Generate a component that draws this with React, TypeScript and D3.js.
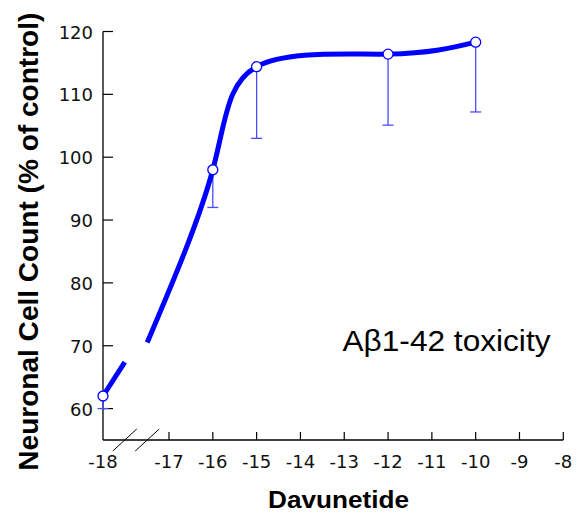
import React from "react";
import * as d3 from "d3";

// ---- data ----
const doses = [-18, -16, -15, -12, -10];
const meanCount = [62, 98, 114.4, 116.4, 118.3];
const lowerErr = [60, 92, 103, 105.1, 107.2];

// fitted curve nodes, split at the axis break
const fitLowX = [-18, -17.67];
const fitLowY = [62, 67.4];
const fitHighX = [-17.33, -16, -15, -12, -10];
const fitHighY = [70.5, 98, 114.4, 116.4, 118.3];

const breakMarks = [-17.67, -17.33];

const xTickValues = [-17, -16, -15, -14, -13, -12, -11, -10, -9, -8];
const xTickLabels = [-18, -17, -16, -15, -14, -13, -12, -11, -10, -9, -8];
const yTickValues = [60, 70, 80, 90, 100, 110, 120];

const xTitle = "Davunetide";
const yTitle = "Neuronal Cell Count (% of control)";
const annotation = "Aβ1-42 toxicity";

const W = 578;
const H = 513;

export default function App() {
  const x = d3.scaleLinear().domain([-18, -17, -8]).range([103, 169, 563.3]);
  const y = d3.scaleLinear().domain([55, 120]).range([440, 31.5]);

  const lineStraight = d3
    .line<[number, number]>()
    .x((d) => x(d[0]))
    .y((d) => y(d[1]));
  const lineCurve = d3
    .line<[number, number]>()
    .x((d) => x(d[0]))
    .y((d) => y(d[1]))
    .curve(d3.curveNatural);

  const lowPts = fitLowX.map((v, i) => [v, fitLowY[i]] as [number, number]);
  const highPts = fitHighX.map((v, i) => [v, fitHighY[i]] as [number, number]);

  const tickFont = "DejaVu Sans, Verdana, sans-serif";
  const titleFont = "Liberation Sans, Arial, Helvetica, sans-serif";
  const blue = "#0000ff";
  const errBlue = "#4a4aff";

  const x0 = x(-18);
  const y0 = y(55);
  const yTop = y(120);

  return (
    <svg
      width={W}
      height={H}
      style={{ position: "absolute", left: 0, top: 0, background: "#fff" }}
    >
      {/* y axis */}
      <line x1={x0} x2={x0} y1={yTop} y2={y0} stroke="#000" strokeWidth={1.3} />
      {yTickValues.map((v) => (
        <g key={"yt" + v}>
          <line x1={x0} x2={x0 + 10} y1={y(v)} y2={y(v)} stroke="#000" strokeWidth={1.2} />
          <text
            x={x0 - 10}
            y={y(v) + 7}
            textAnchor="end"
            fontFamily={tickFont}
            fontSize={18}
            fill="#111"
          >
            {v}
          </text>
        </g>
      ))}

      {/* x axis */}
      <line x1={x0} x2={x(-8)} y1={y0} y2={y0} stroke="#000" strokeWidth={1.3} />
      {xTickValues.map((v) => (
        <line
          key={"xt" + v}
          x1={x(v)}
          x2={x(v)}
          y1={y0}
          y2={y0 - 8}
          stroke="#000"
          strokeWidth={1.2}
        />
      ))}
      {xTickLabels.map((v) => (
        <text
          key={"xl" + v}
          x={x(v)}
          y={y0 + 28}
          textAnchor="middle"
          fontFamily={tickFont}
          fontSize={18}
          fill="#111"
        >
          {String(v)}
        </text>
      ))}

      {/* axis break marks */}
      {breakMarks.map((v) => (
        <line
          key={"br" + v}
          x1={x(v) - 12}
          y1={y0 + 11}
          x2={x(v) + 12}
          y2={y0 - 11}
          stroke="#000"
          strokeWidth={1}
        />
      ))}

      {/* titles */}
      <text
        x={338.5}
        y={508}
        textAnchor="middle"
        fontFamily={titleFont}
        fontWeight="bold"
        fontSize={24}
        textLength={141}
        lengthAdjust="spacingAndGlyphs"
        fill="#000"
      >
        {xTitle}
      </text>
      <text
        transform={`translate(37.5, 241.7) rotate(-90)`}
        textAnchor="middle"
        fontFamily={titleFont}
        fontWeight="bold"
        fontSize={28}
        textLength={458}
        lengthAdjust="spacingAndGlyphs"
        fill="#000"
      >
        {yTitle}
      </text>

      {/* annotation */}
      <text
        x={342.5}
        y={350.5}
        fontFamily={titleFont}
        fontSize={30}
        textLength={208}
        lengthAdjust="spacingAndGlyphs"
        fill="#000"
      >
        {annotation}
      </text>

      {/* error bars */}
      {doses.map((d, i) => (
        <g key={"eb" + d} stroke={errBlue} strokeWidth={1.3}>
          <line x1={x(d)} x2={x(d)} y1={y(meanCount[i])} y2={y(lowerErr[i])} />
          <line x1={x(d) - 5.5} x2={x(d) + 5.5} y1={y(lowerErr[i])} y2={y(lowerErr[i])} />
        </g>
      ))}

      {/* fitted curve */}
      <path d={lineStraight(lowPts) || ""} fill="none" stroke={blue} strokeWidth={5} />
      <path d={lineCurve(highPts) || ""} fill="none" stroke={blue} strokeWidth={5} />

      {/* data points */}
      {doses.map((d, i) => (
        <circle
          key={"pt" + d}
          cx={x(d)}
          cy={y(meanCount[i])}
          r={5}
          fill="#fff"
          stroke={blue}
          strokeWidth={1.3}
        />
      ))}
    </svg>
  );
}
